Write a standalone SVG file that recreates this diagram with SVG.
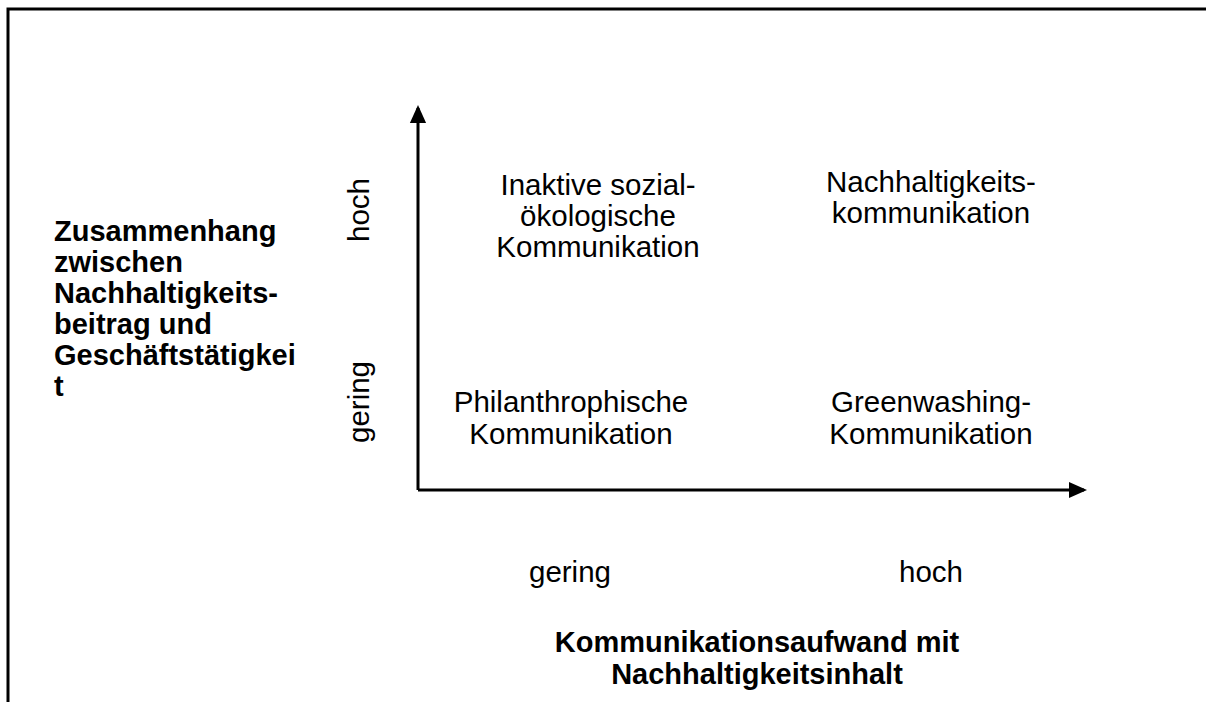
<svg xmlns="http://www.w3.org/2000/svg" width="1206" height="702" viewBox="0 0 1206 702">
<style>
.t{font-family:"Liberation Sans",Arial,sans-serif;font-size:29.5px;fill:#000;text-anchor:middle}
.b{font-family:"Liberation Sans",Arial,sans-serif;font-size:29px;font-weight:bold;fill:#000}
.bc{text-anchor:middle}
.ax{stroke:#000;stroke-width:3;fill:none}
</style>
<defs>
<marker id="ah" markerWidth="6" markerHeight="6" refX="5" refY="3" orient="auto" markerUnits="strokeWidth">
<path d="M0,0.3 L6,3 L0,5.7 z" fill="#000"/>
</marker>
</defs>
<rect x="0" y="0" width="1206" height="702" fill="#fff"/>
<g id="frame" stroke="#000" stroke-width="3" fill="none">
<path d="M8,702 L8,9 L1206,9"/>
</g>
<g id="connectors">
<line class="ax" x1="418" y1="490" x2="418" y2="108" marker-end="url(#ah)"/>
<line class="ax" x1="418" y1="490" x2="1084" y2="490" marker-end="url(#ah)"/>
</g>
<g id="y-title">
<text class="b" x="54" y="241">Zusammenhang</text>
<text class="b" x="54" y="272">zwischen</text>
<text class="b" x="54" y="303">Nachhaltigkeits-</text>
<text class="b" x="54" y="334">beitrag und</text>
<text class="b" x="54" y="365">Geschäftstätigkei</text>
<text class="b" x="54" y="396">t</text>
</g>
<g id="y-hoch"><text class="t" transform="translate(369,210) rotate(-90)">hoch</text></g>
<g id="y-gering"><text class="t" transform="translate(369,402) rotate(-90)">gering</text></g>
<g id="q-tl">
<text class="t" x="598" y="195">Inaktive sozial-</text>
<text class="t" x="598" y="226">ökologische</text>
<text class="t" x="598" y="257">Kommunikation</text>
</g>
<g id="q-tr">
<text class="t" x="931" y="192">Nachhaltigkeits-</text>
<text class="t" x="931" y="223">kommunikation</text>
</g>
<g id="q-bl">
<text class="t" x="571" y="412">Philanthrophische</text>
<text class="t" x="571" y="444">Kommunikation</text>
</g>
<g id="q-br">
<text class="t" x="931" y="412">Greenwashing-</text>
<text class="t" x="931" y="444">Kommunikation</text>
</g>
<g id="x-gering"><text class="t" x="570" y="582">gering</text></g>
<g id="x-hoch"><text class="t" x="931" y="582">hoch</text></g>
<g id="x-title">
<text class="b bc" x="757" y="652">Kommunikationsaufwand mit</text>
<text class="b bc" x="757" y="684">Nachhaltigkeitsinhalt</text>
</g>
</svg>
